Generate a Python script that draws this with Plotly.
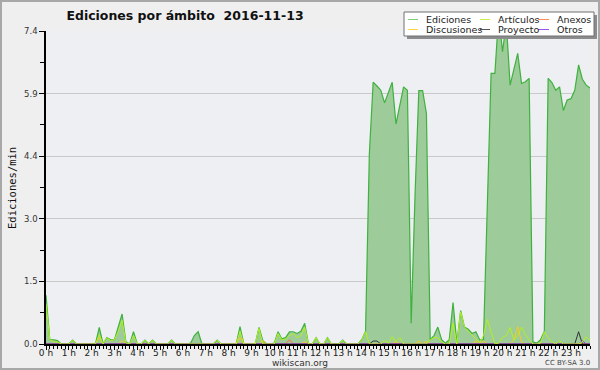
import plotly.graph_objects as go

# ---- data: 144 ten-minute slots (0h00 .. 23h50), edits per minute ----
ediciones = [
    1.15, 0.10, 0.10, 0.08, 0.00, 0.00,
    0.00, 0.09, 0.00, 0.00, 0.00, 0.00,
    0.00, 0.00, 0.39, 0.00, 0.15, 0.10,
    0.10, 0.40, 0.71, 0.05, 0.00, 0.29,
    0.00, 0.00, 0.09, 0.00, 0.09, 0.00,
    0.00, 0.00, 0.00, 0.09, 0.00, 0.00,
    0.00, 0.00, 0.02, 0.20, 0.29, 0.00,
    0.00, 0.00, 0.00, 0.09, 0.00, 0.00,
    0.00, 0.00, 0.00, 0.41, 0.00, 0.00,
    0.00, 0.00, 0.39, 0.08, 0.00, 0.00,
    0.02, 0.29, 0.12, 0.15, 0.29, 0.29,
    0.25, 0.30, 0.49, 0.00, 0.00, 0.15,
    0.00, 0.00, 0.15, 0.00, 0.00, 0.00,
    0.09, 0.00, 0.00, 0.00, 0.00, 0.10,
    0.30, 4.50, 6.19, 6.10, 6.00, 5.70,
    5.96, 6.19, 5.20, 5.65, 6.08, 6.00,
    0.49, 3.50, 5.99, 5.99, 5.45, 0.10,
    0.20, 0.40, 0.10, 0.02, 0.10, 0.98,
    0.02, 0.79, 0.40, 0.35, 0.25, 0.29,
    0.10, 0.10, 3.30, 6.40, 6.40, 7.80,
    6.91, 7.60, 6.12, 6.50, 6.87, 6.16,
    6.20, 6.28, 0.05, 0.02, 0.10, 0.30,
    6.28, 6.18, 6.00, 6.08, 5.52, 5.77,
    5.80, 6.00, 6.60, 6.26, 6.12, 6.05,
]
articulos = [
    0.95, 0.10, 0.05, 0.05, 0.00, 0.00,
    0.00, 0.09, 0.00, 0.00, 0.00, 0.00,
    0.00, 0.00, 0.22, 0.00, 0.15, 0.08,
    0.10, 0.30, 0.56, 0.03, 0.00, 0.20,
    0.00, 0.00, 0.09, 0.00, 0.09, 0.00,
    0.00, 0.00, 0.00, 0.09, 0.00, 0.00,
    0.00, 0.00, 0.00, 0.00, 0.00, 0.00,
    0.00, 0.00, 0.00, 0.09, 0.00, 0.00,
    0.00, 0.00, 0.00, 0.30, 0.00, 0.00,
    0.00, 0.00, 0.37, 0.00, 0.00, 0.00,
    0.00, 0.25, 0.10, 0.12, 0.20, 0.25,
    0.15, 0.20, 0.40, 0.00, 0.00, 0.15,
    0.00, 0.00, 0.15, 0.00, 0.00, 0.00,
    0.09, 0.00, 0.00, 0.00, 0.00, 0.10,
    0.29, 0.00, 0.00, 0.00, 0.00, 0.08,
    0.02, 0.17, 0.05, 0.15, 0.00, 0.00,
    0.00, 0.00, 0.00, 0.00, 0.00, 0.10,
    0.15, 0.15, 0.05, 0.00, 0.00, 0.49,
    0.00, 0.76, 0.40, 0.30, 0.22, 0.12,
    0.03, 0.20, 0.58, 0.30, 0.00, 0.02,
    0.15, 0.20, 0.39, 0.09, 0.20, 0.40,
    0.22, 0.10, 0.00, 0.00, 0.02, 0.29,
    0.15, 0.05, 0.00, 0.08, 0.00, 0.00,
    0.00, 0.00, 0.00, 0.05, 0.17, 0.08,
]
discusiones = [
    0.00, 0.00, 0.00, 0.00, 0.00, 0.00,
    0.00, 0.00, 0.00, 0.00, 0.00, 0.00,
    0.00, 0.00, 0.15, 0.00, 0.00, 0.00,
    0.00, 0.00, 0.08, 0.00, 0.00, 0.00,
    0.00, 0.00, 0.00, 0.00, 0.00, 0.00,
    0.00, 0.00, 0.00, 0.00, 0.00, 0.00,
    0.00, 0.00, 0.00, 0.00, 0.00, 0.00,
    0.00, 0.00, 0.00, 0.00, 0.00, 0.00,
    0.00, 0.00, 0.00, 0.15, 0.00, 0.00,
    0.00, 0.00, 0.00, 0.08, 0.00, 0.00,
    0.00, 0.00, 0.00, 0.00, 0.00, 0.00,
    0.00, 0.00, 0.05, 0.00, 0.00, 0.00,
    0.00, 0.00, 0.00, 0.00, 0.00, 0.00,
    0.00, 0.00, 0.00, 0.00, 0.00, 0.00,
    0.00, 0.00, 0.00, 0.00, 0.00, 0.00,
    0.00, 0.00, 0.06, 0.00, 0.00, 0.00,
    0.00, 0.00, 0.07, 0.00, 0.07, 0.00,
    0.00, 0.00, 0.00, 0.00, 0.00, 0.00,
    0.00, 0.00, 0.00, 0.00, 0.00, 0.07,
    0.00, 0.07, 0.00, 0.00, 0.00, 0.00,
    0.00, 0.00, 0.00, 0.10, 0.41, 0.05,
    0.00, 0.00, 0.00, 0.00, 0.00, 0.00,
    0.00, 0.00, 0.00, 0.00, 0.00, 0.00,
    0.00, 0.00, 0.00, 0.00, 0.00, 0.00,
]
anexos = [0.0] * 64 + [0.10] + [0.0] * 79
proyecto = [0.0] * 86 + [0.07, 0.07] + [0.0] * 52 + [0.29] + [0.0] * 3
otros = [0.0] * 141 + [0.08] + [0.0] * 2

hour_ticks = list(range(24))
hour_labels = [f"{h} h" for h in hour_ticks]
y_ticks = [0, 1.48, 2.96, 4.44, 5.92, 7.4]
y_labels = ["0.0", "1.5", "3.0", "4.4", "5.9", "7.4"]

series = [
    ("Ediciones", ediciones, "#3fb13f"),
    ("Artículos", articulos, "#b4f01e"),
    ("Anexos", anexos, "#ff7040"),
    ("Discusiones", discusiones, "#ffc820"),
    ("Proyecto", proyecto, "#333333"),
    ("Otros", otros, "#8a3ff0"),
]
legend_colors = {
    "Ediciones": "#80d080", "Artículos": "#c8f050", "Anexos": "#ff8a5a",
    "Discusiones": "#ffd24a", "Proyecto": "#555555", "Otros": "#9a55f0",
}

times = [i / 6 for i in range(len(ediciones))]

# ---- layout geometry (pixels) ----
W, H = 600, 370
PL, PR, PT, PB = 46, 590, 31, 344


def px(x):
    return (x - PL) / (PR - PL)


def py(y):
    return (PB - y) / (PB - PT)


fig = go.Figure()
fig.add_trace(go.Scatter(x=times, y=ediciones, name="Ediciones", mode="lines",
                         fill="tozeroy", fillcolor="rgb(157,203,154)",
                         line=dict(color="#3fb13f", width=1.2), showlegend=False))
for name, vals, col in [series[3], series[2], series[4], series[5], series[1]]:
    fig.add_trace(go.Scatter(x=times, y=vals, name=name, mode="lines",
                             line=dict(color=col, width=1), showlegend=False))

shapes = []
annotations = []

# outer border
shapes.append(dict(type="rect", xref="paper", yref="paper",
                   x0=px(1), x1=px(599), y0=py(369), y1=py(1),
                   line=dict(color="#a8a8a8", width=2), layer="below"))

# manual legend box (with shadow)
shapes.append(dict(type="rect", xref="paper", yref="paper",
                   x0=px(407), x1=px(597), y0=py(39), y1=py(15),
                   fillcolor="#8c8c8c", line=dict(width=0), layer="above"))
shapes.append(dict(type="rect", xref="paper", yref="paper",
                   x0=px(404), x1=px(594), y0=py(36), y1=py(12),
                   fillcolor="white", line=dict(color="#707070", width=1), layer="above"))
legend_rows = [["Ediciones", "Artículos", "Anexos"], ["Discusiones", "Proyecto", "Otros"]]
col_x = [(408, 418, 424), (480, 490, 496), (538, 549, 555)]
row_y = [19.5, 29.5]
for r, row in enumerate(legend_rows):
    for c, name in enumerate(row):
        x0, x1, tx = col_x[c]
        yy = row_y[r]
        shapes.append(dict(type="line", xref="paper", yref="paper",
                           x0=px(x0), x1=px(x1), y0=py(yy), y1=py(yy),
                           line=dict(color=legend_colors[name], width=1), layer="above"))
        annotations.append(dict(text=name, xref="paper", yref="paper",
                                x=px(tx), y=py(yy), xanchor="left", yanchor="middle",
                                showarrow=False,
                                font=dict(family="DejaVu Sans", size=9.5, color="#222")))

annotations.append(dict(text="Ediciones/min", xref="paper", yref="paper",
                        x=px(12), y=py(188), textangle=-90, showarrow=False,
                        xanchor="center", yanchor="middle",
                        font=dict(family="DejaVu Sans Mono", size=10.5, color="#111")))
annotations.append(dict(text="wikiscan.org", xref="paper", yref="paper",
                        x=px(300), y=py(362.5), showarrow=False, xanchor="center", yanchor="middle",
                        font=dict(family="DejaVu Sans", size=9, color="#333")))
annotations.append(dict(text="CC BY-SA 3.0", xref="paper", yref="paper",
                        x=px(567), y=py(363), showarrow=False, xanchor="center", yanchor="middle",
                        font=dict(family="DejaVu Sans", size=7, color="#444")))

fig.update_layout(
    width=W, height=H,
    margin=dict(l=PL, r=W - PR, t=PT, b=H - PB, pad=0),
    paper_bgcolor="#efefef",
    plot_bgcolor="#edeff2",
    title=dict(text="Ediciones por ámbito\u00a0\u00a02016-11-13", x=185 / W, xanchor="center",
               y=1 - 16 / H, yanchor="middle",
               font=dict(family="DejaVu Sans", size=12.5, color="#111", weight="bold")),
    shapes=shapes,
    annotations=annotations,
    showlegend=False,
)
fig.update_xaxes(
    range=[0, times[-1]], tickmode="array", tickvals=hour_ticks, ticktext=hour_labels,
    ticks="outside", ticklen=4, tickcolor="#000", tickwidth=1, ticklabelstandoff=-5,
    showline=True, linecolor="#000", linewidth=1.5, showgrid=False, zeroline=False,
    tickfont=dict(family="DejaVu Sans", size=9, color="#222"),
    minor=dict(tickmode="linear", tick0=0, dtick=1 / 6, ticks="outside", ticklen=3,
               tickcolor="#000", showgrid=False),
)
fig.update_yaxes(
    range=[0, 7.4], tickmode="array", tickvals=y_ticks, ticktext=y_labels,
    ticks="outside", ticklen=5, tickcolor="#000",
    showline=True, linecolor="#000", linewidth=1.5,
    showgrid=True, gridcolor="#c9c9c9", gridwidth=1, zeroline=False,
    tickfont=dict(family="DejaVu Sans", size=8.5, color="#333"),
    minor=dict(tickmode="array", tickvals=[0.74, 2.22, 3.70, 5.18, 6.66],
               ticks="outside", ticklen=4, tickcolor="#000", showgrid=False),
)

fig.write_html("out.html", config={"displayModeBar": False},
               post_script="document.body.style.margin='0';document.body.style.overflow='hidden';")
